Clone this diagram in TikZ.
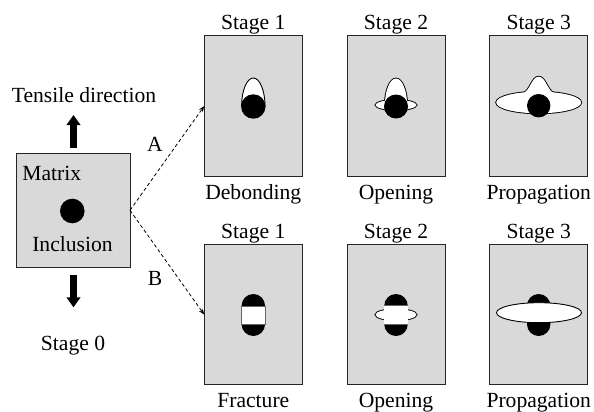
\documentclass[tikz,border=0pt]{standalone}
\usepackage{fontspec}
\setmainfont{Liberation Serif}
\usetikzlibrary{arrows.meta}
\definecolor{panelgray}{RGB}{217,217,217}
\begin{document}
\begin{tikzpicture}[x=1pt,y=-1pt,
  panel/.style={draw=black!85, fill=panelgray, line width=1pt, minimum width=98pt, minimum height=140pt, inner sep=0pt, outer sep=0pt},
  lbl/.style={font=\fontsize{21.6}{26}\selectfont, inner sep=0pt, anchor=base},
  conn/.style={line width=0.8pt, dash pattern=on 3.5pt off 2.5pt, -{Stealth[length=6pt,width=4.5pt]}},
  bigarrow/.style={line width=6.5pt, -{Triangle[width=13.5pt,length=10pt]}},
  outl/.style={draw=black, line width=1.8pt},
  thinl/.style={draw=black, line width=0.9pt}
]
\useasboundingbox (0,0) rectangle (594,412);

% ---- Stage 0 block
\node[panel, minimum width=114pt, minimum height=114pt] (mat) at (73,210.3) {};
\node[circle, fill=black, minimum size=24.6pt, inner sep=0pt] (inc) at (72.3,211) {};
\node[lbl] (matl) at (51.7,180) {Matrix};
\node[lbl] (incl) at (72.5,251.7) {Inclusion};
\node[lbl] (tens) at (84,102.3) {Tensile direction};
\node[lbl] (st0) at (73,350) {Stage 0};
\coordinate (upS) at (73.5,148.3);
\coordinate (upE) at (73.5,115);
\coordinate (dnS) at (73.5,275);
\coordinate (dnE) at (73.5,307.3);
\draw[bigarrow] (upS) -- (upE);
\draw[bigarrow] (dnS) -- (dnE);

% ---- panels
\node[panel] (t1) at (253.3,106) {};
\node[panel] (t2) at (396,106) {};
\node[panel] (t3) at (538.7,106) {};
\node[panel] (b1) at (253.3,314.7) {};
\node[panel] (b2) at (396,314.7) {};
\node[panel] (b3) at (538.7,314.7) {};

% ---- labels
\node[lbl] (ts1) at (253.3,30) {Stage 1};
\node[lbl] (ts2) at (396,30) {Stage 2};
\node[lbl] (ts3) at (538.7,30) {Stage 3};
\node[lbl] (tl1) at (253.3,199) {Debonding};
\node[lbl] (tl2) at (396,199) {Opening};
\node[lbl] (tl3) at (538.7,199) {Propagation};
\node[lbl] (bs1) at (253.3,238) {Stage 1};
\node[lbl] (bs2) at (396,238) {Stage 2};
\node[lbl] (bs3) at (538.7,238) {Stage 3};
\node[lbl] (bl1) at (253.3,407) {Fracture};
\node[lbl] (bl2) at (396,407) {Opening};
\node[lbl] (bl3) at (538.7,407) {Propagation};

% ---- connectors
\draw[conn] (mat.east) -- (t1.west);
\draw[conn] (mat.east) -- (b1.west);
\node[lbl] (la) at (155,151.7) {A};
\node[lbl] (lb) at (155,285) {B};

% ---- top panel 1: debonding
\begin{scope}
  \clip (235,106) rectangle (272,70);
  \filldraw[fill=white, thinl] (253.3,106) ellipse [x radius=11.7, y radius=28];
\end{scope}
\fill[black] (253.3,106.5) circle [radius=12.2];

% ---- top panel 2: opening
\begin{scope}
  \clip (370,106) rectangle (422,70);
  \draw[outl] (396,106) ellipse [x radius=11.2, y radius=27.5];
\end{scope}
\draw[outl] (396,105) ellipse [x radius=20.5, y radius=5];
\begin{scope}
  \clip (370,106) rectangle (422,70);
  \fill[white] (396,106) ellipse [x radius=11.2, y radius=27.5];
\end{scope}
\fill[white] (396,105) ellipse [x radius=20.5, y radius=5];
\fill[black] (396,106.5) circle [radius=12];

% ---- top panel 3: propagation
\draw[outl] (538.7,102.5) ellipse [x radius=42.5, y radius=10.8];
\draw[outl] (522.4,93.6) .. controls (530.4,91) and (531.4,76.7) .. (538.7,76.7)
  .. controls (546,76.7) and (547,91) .. (555,93.6) -- (555,100) -- (522.4,100) -- cycle;
\fill[white] (538.7,102.5) ellipse [x radius=42.5, y radius=10.8];
\fill[white] (522.4,93.6) .. controls (530.4,91) and (531.4,76.7) .. (538.7,76.7)
  .. controls (546,76.7) and (547,91) .. (555,93.6) -- (555,100) -- (522.4,100) -- cycle;
\fill[black] (538.7,105.7) circle [radius=11.7];

% ---- bottom panel 1: fracture
\fill[black, rounded corners=11.7pt] (241.6,294) rectangle (265,336);
\filldraw[fill=white, draw=black!60, line width=0.6pt] (241.6,306) rectangle (265,324);

% ---- bottom panel 2: opening
\fill[black, rounded corners=11.7pt] (384.3,294) rectangle (407.7,336);
\draw[outl] (396,314.7) ellipse [x radius=20.5, y radius=5.5];
\draw[draw=black!60, line width=1.2pt] (384.3,306) rectangle (407.7,324);
\fill[white] (384.3,306) rectangle (407.7,324);
\fill[white] (396,314.7) ellipse [x radius=20.5, y radius=5.5];

% ---- bottom panel 3: propagation
\fill[black, rounded corners=11.7pt] (527,294) rectangle (550.4,336);
\filldraw[fill=white, thinl] (539,312.7) ellipse [x radius=42.5, y radius=10];

\end{tikzpicture}
\end{document}
